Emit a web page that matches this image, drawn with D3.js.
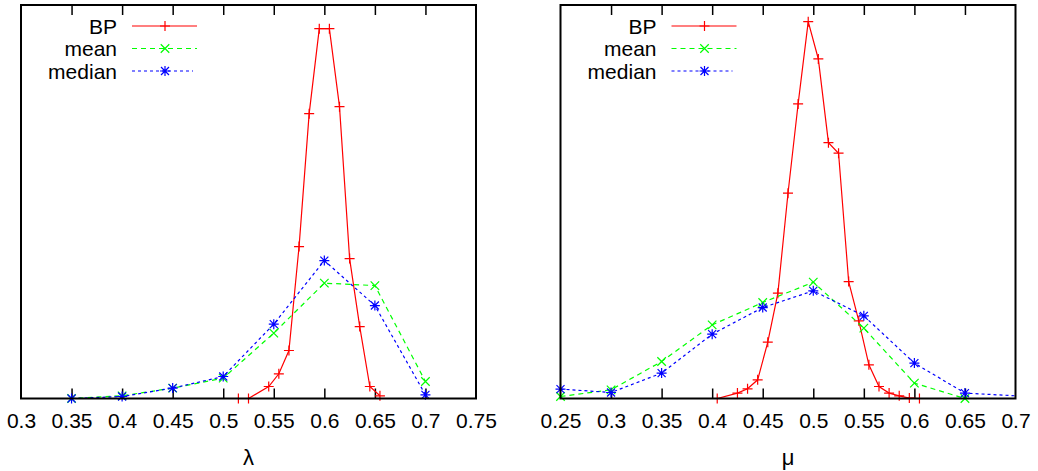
<!DOCTYPE html>
<html>
<head>
<meta charset="utf-8">
<script src="https://cdn.jsdelivr.net/npm/d3@7"></script>
<style>
  html, body { margin: 0; padding: 0; background: #fff; }
  svg { display: block; }
  text { font-family: "Liberation Sans", Arial, sans-serif; fill: #000; }
</style>
</head>
<body>
<svg id="chart" width="1038" height="471"></svg>
<script>
// ---------- data ----------
const seriesNames = ["BP", "mean", "median"];

// left panel (lambda)
const lambdaTicks = [0.3, 0.35, 0.4, 0.45, 0.5, 0.55, 0.6, 0.65, 0.7, 0.75];
const lambdaBPx = [0.515, 0.525, 0.545, 0.555, 0.565, 0.575, 0.585, 0.595, 0.605, 0.615, 0.625, 0.635, 0.645, 0.655];
const lambdaBPy = [0, 0, 1.2, 2.47, 4.8, 15.2, 28.5, 37.0, 37.0, 29.2, 14.0, 7.2, 1.2, 0.27];
const lambdaStatX = [0.25, 0.35, 0.4, 0.45, 0.5, 0.55, 0.6, 0.65, 0.7];
const lambdaMean = [0, 0, 0.27, 1.04, 2.04, 6.54, 11.54, 11.3, 1.7];
const lambdaMedian = [0, 0, 0.2, 1.04, 2.2, 7.44, 13.8, 9.3, 0.37];

// right panel (mu)
const muTicks = [0.25, 0.3, 0.35, 0.4, 0.45, 0.5, 0.55, 0.6, 0.65, 0.7];
const muBPx = [0.405, 0.425, 0.435, 0.445, 0.455, 0.465, 0.475, 0.485, 0.495, 0.505, 0.515, 0.525, 0.535, 0.545, 0.555, 0.565, 0.575, 0.585, 0.595, 0.605];
const muBPy = [0, 0.54, 0.97, 1.87, 5.64, 10.54, 20.54, 29.47, 37.7, 33.97, 25.6, 24.54, 11.7, 7.77, 3.37, 1.2, 0.54, 0.27, 0.04, 0];
const muStatX = [0.25, 0.3, 0.35, 0.4, 0.45, 0.5, 0.55, 0.6, 0.65, 0.75];
const muMean = [0.2, 0.87, 3.7, 7.37, 9.6, 11.64, 7.04, 1.54, 0, 0];
const muMedian = [0.94, 0.6, 2.54, 6.44, 9.1, 10.77, 8.27, 3.54, 0.54, 0];

const yMax = 39.37;

// ---------- drawing ----------
const svg = d3.select("#chart");
const styles = {
  BP:     { color: "#ff0000", dash: null,  marker: "plus" },
  mean:   { color: "#00ff00", dash: "5,4", marker: "cross" },
  median: { color: "#0000ff", dash: "3,3", marker: "star" }
};

function markerPath(type, s) {
  const p = d3.path();
  const h = s / 2;
  if (type === "plus" || type === "star") {
    p.moveTo(-h, 0); p.lineTo(h, 0);
    p.moveTo(0, -h); p.lineTo(0, h);
  }
  if (type === "cross" || type === "star") {
    const d = type === "star" ? h * 0.8 : h * 0.85;
    p.moveTo(-d, -d); p.lineTo(d, d);
    p.moveTo(-d, d); p.lineTo(d, -d);
  }
  return p.toString();
}

function drawPanel(cfg) {
  const g = svg.append("g");
  const x = d3.scaleLinear().domain(cfg.domain).range([cfg.left, cfg.right]);
  const y = d3.scaleLinear().domain([0, yMax]).range([cfg.bottom, cfg.top]);

  const clipId = "clip" + cfg.id;
  svg.append("clipPath").attr("id", clipId).append("rect")
    .attr("x", cfg.left).attr("y", cfg.top)
    .attr("width", cfg.right - cfg.left).attr("height", cfg.bottom - cfg.top);

  // ticks (inward, bottom and mirrored top)
  const inner = cfg.ticks.filter(t => t > cfg.domain[0] + 1e-9 && t < cfg.domain[1] - 1e-9);
  const bottomAxis = d3.axisBottom(x).tickValues(cfg.ticks).tickSize(0).tickPadding(15)
    .tickFormat(d => d3.format("")(+d.toFixed(2)));
  const axG = g.append("g").attr("transform", `translate(0,${cfg.bottom})`).call(bottomAxis);
  axG.select(".domain").remove();
  axG.selectAll("text").attr("font-size", 21).attr("font-family", "Liberation Sans, Arial, sans-serif").attr("fill", "#000");

  const tickIn = d3.axisBottom(x).tickValues(inner).tickSize(-10).tickFormat("");
  const tb = g.append("g").attr("transform", `translate(0,${cfg.bottom})`).call(tickIn);
  tb.select(".domain").remove();
  tb.selectAll("line").attr("stroke", "#000").attr("stroke-width", 1.5);
  const tickTop = d3.axisTop(x).tickValues(inner).tickSize(-10).tickFormat("");
  const tt = g.append("g").attr("transform", `translate(0,${cfg.top})`).call(tickTop);
  tt.select(".domain").remove();
  tt.selectAll("line").attr("stroke", "#000").attr("stroke-width", 1.5);

  // series
  const series = [
    { name: "BP", xs: cfg.bpX, ys: cfg.bpY },
    { name: "mean", xs: cfg.statX, ys: cfg.mean },
    { name: "median", xs: cfg.statX, ys: cfg.median }
  ];
  const line = d3.line().x(d => x(d[0])).y(d => y(d[1]));
  series.forEach(s => {
    const st = styles[s.name];
    const pts = s.xs.map((v, i) => [v, s.ys[i]]);
    g.append("path").datum(pts)
      .attr("clip-path", `url(#${clipId})`)
      .attr("d", line).attr("fill", "none")
      .attr("stroke", st.color).attr("stroke-width", 1.2)
      .attr("stroke-dasharray", st.dash);
    const vis = pts.filter(d => d[0] >= cfg.domain[0] - 1e-9 && d[0] <= cfg.domain[1] + 1e-9);
    g.selectAll(null).data(vis).enter().append("path")
      .attr("transform", d => `translate(${x(d[0])},${y(d[1])})`)
      .attr("d", markerPath(st.marker, 10))
      .attr("fill", "none").attr("stroke", st.color).attr("stroke-width", 1.2);
  });

  // border
  g.append("rect").attr("x", cfg.left).attr("y", cfg.top)
    .attr("width", cfg.right - cfg.left).attr("height", cfg.bottom - cfg.top)
    .attr("fill", "none").attr("stroke", "#000").attr("stroke-width", 2);

  // legend
  const lg = g.append("g");
  const lx = cfg.left + 96, l0 = cfg.left + 111, l1 = cfg.left + 176;
  const ly = [26, 48.5, 71];
  seriesNames.forEach((n, i) => {
    const st = styles[n];
    lg.append("text").attr("x", lx).attr("y", ly[i]).attr("dy", "0.36em")
      .attr("text-anchor", "end").attr("font-size", 21).text(n);
    lg.append("line").attr("x1", l0).attr("x2", n === "median" ? l1 - 4 : l1)
      .attr("y1", ly[i]).attr("y2", ly[i])
      .attr("stroke", st.color).attr("stroke-width", 1.2).attr("stroke-dasharray", st.dash);
    lg.append("path").attr("transform", `translate(${(l0 + l1) / 2 + 0.5},${ly[i]})`)
      .attr("d", markerPath(st.marker, 10)).attr("fill", "none")
      .attr("stroke", st.color).attr("stroke-width", 1.2);
  });

  // axis title
  g.append("text").attr("x", (cfg.left + cfg.right) / 2).attr("y", 465)
    .attr("text-anchor", "middle").attr("font-size", 22).text(cfg.title);
}

drawPanel({
  id: "L", domain: [0.3, 0.75], left: 21, right: 476, top: 5, bottom: 398.5,
  ticks: lambdaTicks, bpX: lambdaBPx, bpY: lambdaBPy,
  statX: lambdaStatX, mean: lambdaMean, median: lambdaMedian, title: "λ"
});
drawPanel({
  id: "R", domain: [0.25, 0.7], left: 560.5, right: 1015.5, top: 5, bottom: 398.5,
  ticks: muTicks, bpX: muBPx, bpY: muBPy,
  statX: muStatX, mean: muMean, median: muMedian, title: "μ"
});
</script>
</body>
</html>
